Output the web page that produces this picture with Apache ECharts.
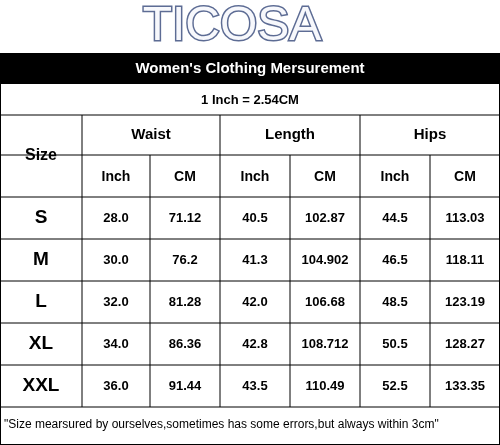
<!DOCTYPE html><html><head><meta charset="utf-8"><script src="https://cdn.jsdelivr.net/npm/echarts@6/dist/echarts.min.js"></script>
<style>html,body{margin:0;padding:0;background:#fff}#c{width:500px;height:445px}</style></head><body><div id="c"></div><script>
const brand="TICOSA";
const title="Women's Clothing Mersurement";
const note="1 Inch = 2.54CM";
const groups=["Waist","Length","Hips"];
const units=["Inch","CM"];
const sizes=["S","M","L","XL","XXL"];
const waistIn=["28.0","30.0","32.0","34.0","36.0"];
const waistCm=["71.12","76.2","81.28","86.36","91.44"];
const lenIn=["40.5","41.3","42.0","42.8","43.5"];
const lenCm=["102.87","104.902","106.68","108.712","110.49"];
const hipIn=["44.5","46.5","48.5","50.5","52.5"];
const hipCm=["113.03","118.11","123.19","128.27","133.35"];
const footer="\"Size mearsured by ourselves,sometimes has some errors,but always within 3cm\"";

const colX=[0,82,150,220,290,360,430,500];
const rowY=[115,155,197,239,281,323,365,407];
const F='Liberation Sans, Arial, sans-serif';
const g=[];
function line(x1,y1,x2,y2){g.push({type:'line',shape:{x1,y1,x2,y2},style:{stroke:'#000',lineWidth:1}});}
function txt(t,x,y,size,opt){g.push(Object.assign({type:'text',x,y,style:{text:t,font:'bold '+size+'px '+F,fill:'#000',align:'center',verticalAlign:'middle'}},opt||{}));}
g.push({type:'text',x:232,y:27,style:{text:brand,font:'48px '+F,fill:'#f7f8fc',stroke:'#5d6c94',lineWidth:3,align:'center',verticalAlign:'middle',shadowBlur:3,shadowColor:'rgba(50,60,100,0.6)',shadowOffsetY:1}});
g.push({type:'rect',shape:{x:0,y:53,width:500,height:31},style:{fill:'#000'}});
txt(title,250,69,15,{style:{text:title,font:'bold 15px '+F,fill:'#fff',align:'center',verticalAlign:'middle'}});
txt(note,250,100,13);
line(0,115,500,115);
for(let i=1;i<rowY.length;i++) line(0,rowY[i],500,rowY[i]);
line(82,115,82,407);
[150,290,430].forEach(x=>line(x,155,x,407));
[220,360].forEach(x=>line(x,115,x,407));
line(0.5,84,0.5,445);line(499.5,84,499.5,445);line(0,444.5,500,444.5);
txt("Size",41,156,16);
groups.forEach((t,i)=>txt(t,(colX[1+2*i]+colX[3+2*i])/2,135,15));
for(let i=0;i<6;i++) txt(units[i%2],(colX[i+1]+colX[i+2])/2,177,14);
const cols=[waistIn,waistCm,lenIn,lenCm,hipIn,hipCm];
sizes.forEach((s,r)=>{
  const y=(rowY[r+2]+rowY[r+3])/2;
  txt(s,41,y,19);
  cols.forEach((c,i)=>txt(c[r],(colX[i+1]+colX[i+2])/2,y,13));
});
g.push({type:'text',x:4,y:425,style:{text:footer,font:'12px '+F,fill:'#000',align:'left',verticalAlign:'middle'}});
const ch=echarts.init(document.getElementById('c'));
ch.setOption({animation:false,graphic:g});
</script></body></html>
